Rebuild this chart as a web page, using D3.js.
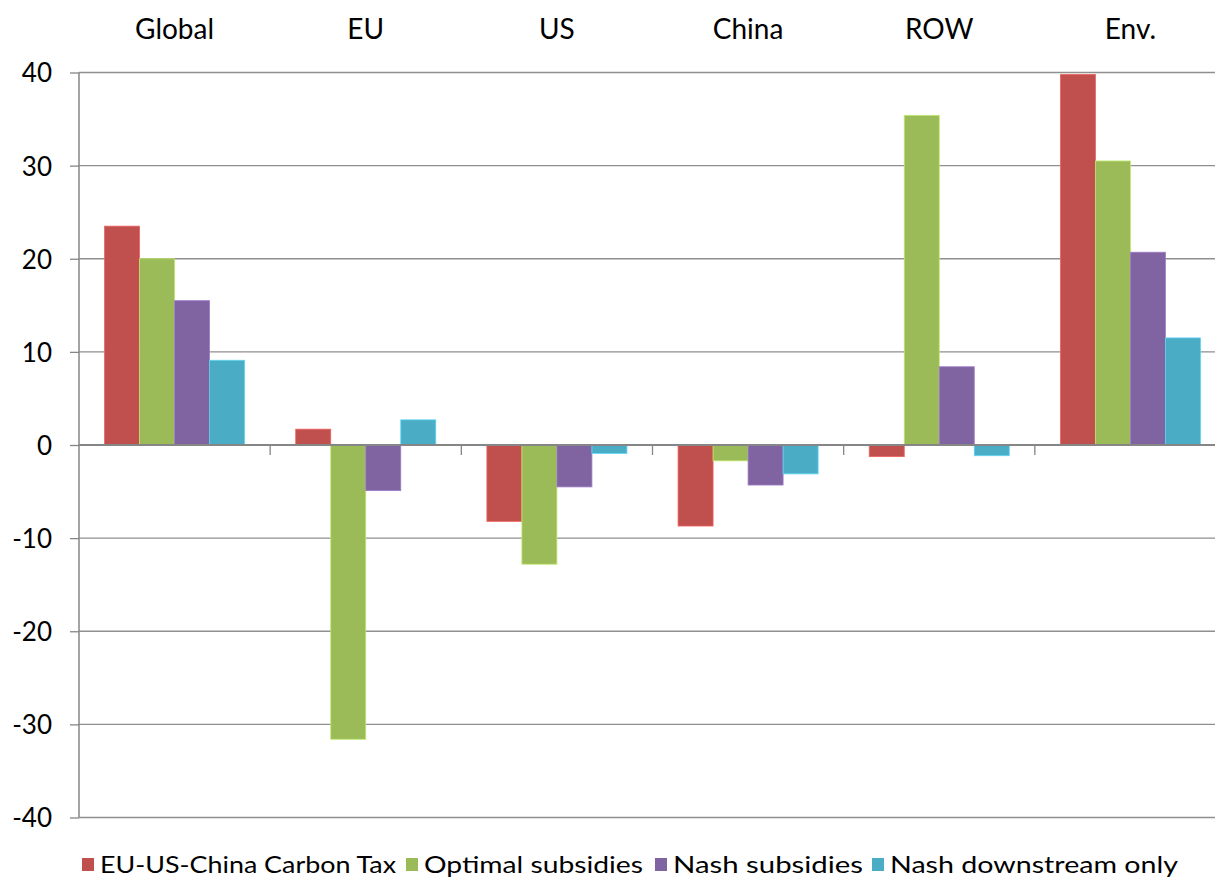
<!DOCTYPE html>
<html><head><meta charset="utf-8">
<script src="https://cdn.jsdelivr.net/npm/d3@7"></script>
<style>
html,body{margin:0;padding:0;background:#fff;overflow:hidden;}
text{font-family:Lato,"Open Sans",sans-serif;fill:#000;}
</style></head>
<body>
<svg id="chart" width="1215" height="880"></svg>
<script>
const categories = ["Global","EU","US","China","ROW","Env."];
const seriesNames = ["EU-US-China Carbon Tax","Optimal subsidies","Nash subsidies","Nash downstream only"];
const carbonTax   = [23.5, 1.7, -8.2, -8.7, -1.25, 39.8];
const optimalSub  = [20.0, -31.6, -12.8, -1.7, 35.4, 30.5];
const nashSub     = [15.5, -4.9, -4.5, -4.3, 8.4, 20.7];
const nashDown    = [9.1, 2.7, -0.9, -3.1, -1.15, 11.5];
const yTicks = [40,30,20,10,0,-10,-20,-30,-40];
const colors = ["#C0504D","#9BBB59","#8064A2","#4BACC6"];
const seriesValues = [carbonTax, optimalSub, nashSub, nashDown];

(function(){
const svg = d3.select("#chart");
const pLeft = 79, pRight = 1226, pTop = 72.5, pBottom = 817.5;

const x0 = d3.scaleBand().domain(categories).range([pLeft, pRight]).paddingInner(0).paddingOuter(0);
const x1 = d3.scaleBand().domain(d3.range(4)).range([0, x0.bandwidth()]).paddingInner(0).paddingOuter(0.73);
const y = d3.scaleLinear().domain([-40, 40]).range([pBottom, pTop]);

// gridlines
svg.append("g").selectAll("line").data(yTicks.filter(d => d !== 0)).join("line")
  .attr("x1", pLeft).attr("x2", pRight)
  .attr("y1", d => y(d)).attr("y2", d => y(d))
  .attr("stroke", "#8f8f8f").attr("stroke-width", 1.3);

// y axis
const yAxis = d3.axisLeft(y).tickValues(yTicks).tickSize(9).tickPadding(18).tickFormat(d => String(d));
const gy = svg.append("g").attr("transform", `translate(${pLeft},0)`).call(yAxis);
gy.select(".domain").remove();
gy.selectAll(".tick line").attr("stroke", "#868686").attr("stroke-width", 1.3);
gy.selectAll(".tick text").attr("font-size", 26).attr("font-family", "Lato, sans-serif").attr("fill", "#000").attr("dy", "0.36em");
svg.append("line").attr("x1", pLeft).attr("x2", pLeft).attr("y1", pTop).attr("y2", pBottom)
  .attr("stroke", "#868686").attr("stroke-width", 1.5);

// bars
const groups = svg.append("g").selectAll("g").data(categories).join("g")
  .attr("transform", d => `translate(${x0(d)},0)`);
groups.selectAll("rect").data((c, ci) => seriesValues.map((s, si) => ({si, v: s[ci]}))).join("rect")
  .attr("x", d => x1(d.si))
  .attr("width", x1.bandwidth())
  .attr("y", d => y(Math.max(0, d.v)))
  .attr("height", d => Math.abs(y(d.v) - y(0)))
  .attr("fill", d => colors[d.si])
  .attr("stroke", d => d3.color(colors[d.si]).brighter(0.6))
  .attr("stroke-width", 0.8);

// zero axis with category ticks
svg.append("line").attr("x1", pLeft).attr("x2", pRight).attr("y1", y(0)).attr("y2", y(0))
  .attr("stroke", "#868686").attr("stroke-width", 2);
svg.append("g").selectAll("line").data(categories.slice(1)).join("line")
  .attr("x1", d => x0(d)).attr("x2", d => x0(d))
  .attr("y1", y(0)).attr("y2", y(0) + 10)
  .attr("stroke", "#868686").attr("stroke-width", 1.3);

// category labels on top
svg.append("g").selectAll("text").data(categories).join("text")
  .attr("x", d => x0(d) + x0.bandwidth() / 2)
  .attr("y", 39)
  .attr("text-anchor", "middle")
  .attr("font-size", 28)
  .text(d => d);

// legend
const legendX = [82, 406, 655, 872];
const legendW = [296, 219, 190, 288];
const lg = svg.append("g").selectAll("g").data(seriesNames).join("g")
  .attr("transform", (d, i) => `translate(${legendX[i]},0)`);
lg.append("rect").attr("x", 0).attr("y", 858).attr("width", 12).attr("height", 13)
  .attr("fill", (d, i) => colors[i]);
lg.append("text").attr("x", 18).attr("y", 873).attr("font-size", 23)
  .attr("textLength", (d, i) => legendW[i]).attr("lengthAdjust", "spacingAndGlyphs")
  .text(d => d);
})();
</script>
</body></html>
